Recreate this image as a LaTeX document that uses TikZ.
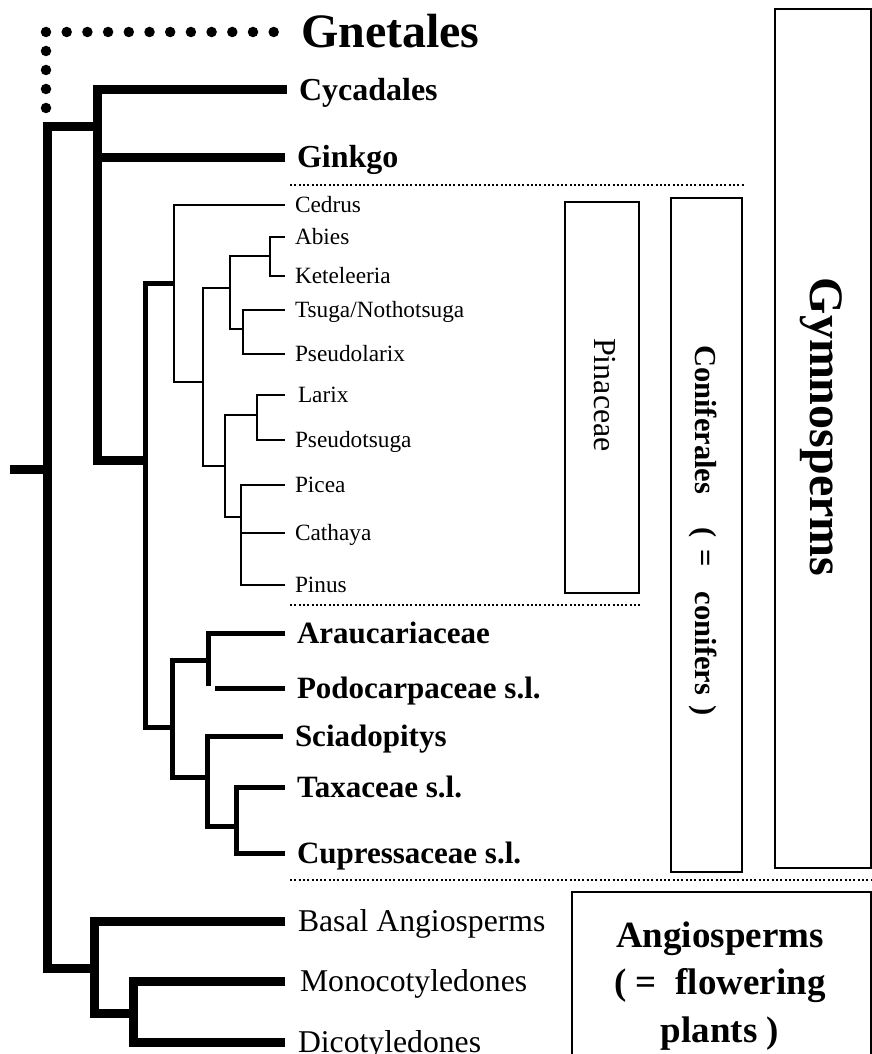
\documentclass[tikz,border=0pt]{standalone}
\usepackage{fontspec}
\setmainfont{Liberation Serif}
\usepackage{tikz}

\tikzset{
  thickbr/.style={line width=9pt},
  midbr/.style={line width=5pt},
  thinbr/.style={line width=2pt},
  gnetdots/.style={line width=10.5pt, line cap=round},
  sepline/.style={line width=2pt, dash pattern=on 2pt off 2.3pt},
  cladebox/.style={draw, line width=1.4pt},
  gnetleaf/.style={anchor=west, inner sep=0pt, outer xsep=21pt, text height=31pt, text depth=0pt, font=\fontsize{48}{54}\selectfont\bfseries},
  bigleaf/.style={anchor=west, inner sep=0pt, outer xsep=12pt, text height=21.5pt, text depth=0pt, font=\fontsize{32}{38}\selectfont\bfseries},
  boldleaf/.style={anchor=west, inner sep=0pt, outer xsep=12pt, text height=20.5pt, text depth=0pt, font=\fontsize{31}{37}\selectfont\bfseries},
  pinleaf/.style={anchor=west, inner sep=0pt, outer xsep=10pt, text height=15.4pt, text depth=0pt, font=\fontsize{23.3}{28}\selectfont},
  angleaf/.style={anchor=west, inner sep=0pt, outer xsep=13pt, text height=21pt, text depth=0pt, font=\fontsize{31.7}{38}\selectfont},
  boxlab/.style={inner sep=0pt, text depth=0pt, rotate=-90},
}

\begin{document}
\begin{tikzpicture}[x=1pt, y=-1pt]
\useasboundingbox (0,0) rectangle (872,1054);

% leaves
\node[gnetleaf] (gnet) at (280,32) {Gnetales};
\node[bigleaf] (cyc) at (287,90) {Cycadales};
\node[bigleaf] (gin) at (285,157) {Ginkgo};

\node[pinleaf] (cedr) at (285,205) {Cedrus};
\node[pinleaf] (abie) at (285,237) {Abies};
\node[pinleaf] (kete) at (285,276) {Keteleeria};
\node[pinleaf] (tsug) at (285,310) {Tsuga/Nothotsuga};
\node[pinleaf] (pseul) at (285,354) {Pseudolarix};
\node[pinleaf, outer xsep=13pt] (lari) at (285,395) {Larix};
\node[pinleaf] (pseut) at (285,440) {Pseudotsuga};
\node[pinleaf] (pice) at (285,485) {Picea};
\node[pinleaf] (cath) at (285,533) {Cathaya};
\node[pinleaf] (pinu) at (285,585) {Pinus};

\node[boldleaf] (arau) at (285,633) {Araucariaceae};
\node[boldleaf] (podo) at (285,688) {Podocarpaceae s.l.};
\node[boldleaf] (scia) at (283,736) {Sciadopitys};
\node[boldleaf] (taxa) at (285,787) {Taxaceae s.l.};
\node[boldleaf] (cupr) at (285,853) {Cupressaceae s.l.};

\node[angleaf] (basal) at (285,921) {Basal Angiosperms};
\node[angleaf, outer xsep=15pt] (mono) at (285,981) {Monocotyledones};
\node[angleaf] (dico) at (285,1042) {Dicotyledones};

% inner nodes
\coordinate (rootstub) at (10,469);
\coordinate (root) at (47,469);
\coordinate (gym) at (97,127);
\coordinate (angio) at (94,968);
\coordinate (conif) at (145,460);
\coordinate (pina) at (174,283);
\coordinate (rest) at (172,727);
\coordinate (pinB) at (203,382);
\coordinate (pinC) at (230,288);
\coordinate (pinD) at (225,466);
\coordinate (pinE) at (270,256);
\coordinate (pinF) at (243,329);
\coordinate (pinG) at (257,415);
\coordinate (pinH) at (241,517);
\coordinate (arpo) at (208,660);
\coordinate (scta) at (207,777);
\coordinate (taxcu) at (236,826);
\coordinate (monodi) at (133,1013);
\coordinate (gnetfoot) at (46,108);
\coordinate (gnetmid) at (46,45);
\coordinate (gnetcorner) at (46,32);

% Gnetales (dotted)
\draw[gnetdots, dash pattern=on 0pt off 19pt] (gnetfoot) -- (gnetmid);
\draw[gnetdots, dash pattern=on 0pt off 20.7pt] (gnetcorner) -- (gnet.west);

% backbone
\draw[thickbr] (rootstub) -- (root);
\draw[thickbr] (root) |- (gym);
\draw[thickbr] (root) |- (angio);
\draw[thickbr] (gym) |- (cyc.west);
\draw[thickbr] (gym) |- (gin.west);
\draw[thickbr] (gym) |- (conif);
\draw[midbr] (conif) |- (pina);
\draw[midbr] (conif) |- (rest);

% Pinaceae
\draw[thinbr] (pina) |- (cedr.west);
\draw[thinbr] (pina) |- (pinB);
\foreach \a/\b in {pinB/pinC, pinB/pinD, pinC/pinE, pinC/pinF, pinD/pinG, pinD/pinH}
  \draw[thinbr] (\a) |- (\b);
\foreach \a/\b in {pinE/abie, pinE/kete, pinF/tsug, pinF/pseul, pinG/lari, pinG/pseut, pinH/pice, pinH/cath, pinH/pinu}
  \draw[thinbr] (\a) |- (\b.west);

% other conifers
\draw[midbr] (rest) |- (arpo);
\draw[midbr] (rest) |- (scta);
\draw[midbr] (arpo) |- (arau.west);
\draw[midbr] (arpo) -- ([yshift=2pt]arpo |- podo.west);
\draw[midbr] ([xshift=7pt]arpo |- podo.west) -- (podo.west);
\draw[midbr] (scta) |- (scia.west);
\draw[midbr] (scta) |- (taxcu);
\draw[midbr] (taxcu) |- (taxa.west);
\draw[midbr] (taxcu) |- (cupr.west);

% angiosperms
\draw[thickbr] (angio) |- (basal.west);
\draw[thickbr] (angio) |- (monodi);
\draw[thickbr] (monodi) |- (mono.west);
\draw[thickbr] (monodi) |- (dico.west);

% separators
\draw[sepline] (290,185) -- (744,185);
\draw[sepline] (290,605) -- (640,605);
\draw[sepline] (290,880) -- (872,880);

% group boxes
\draw[cladebox] (565,202) rectangle (639,593);
\node[boxlab, text height=21.2pt, font=\fontsize{32}{38}\selectfont] (pinlab) at (605.5,395) {Pinaceae};

\draw[cladebox] (671,198) rectangle (742,872);
\node[boxlab, anchor=west, text height=20.7pt, font=\fontsize{30.5}{36}\selectfont\bfseries] (conlab) at (706,345)
  {Coniferales\hspace{33pt}(\hspace{12pt}=\hspace{25pt}conifers\hspace{3pt} )};

\draw[cladebox] (775,9) rectangle (871,868);
\node[boxlab, text height=33pt, font=\fontsize{48}{54}\selectfont\bfseries] (gymlab) at (826.5,427) {Gymnosperms};

\draw[cladebox] (572,892) rectangle (871,1070);
\node[inner sep=0pt, anchor=north, align=center, font=\fontsize{37}{47.5}\selectfont\bfseries] (anglab) at (720,921.5)
  {Angiosperms\\( = \ flowering\\plants )};
\end{tikzpicture}
\end{document}
